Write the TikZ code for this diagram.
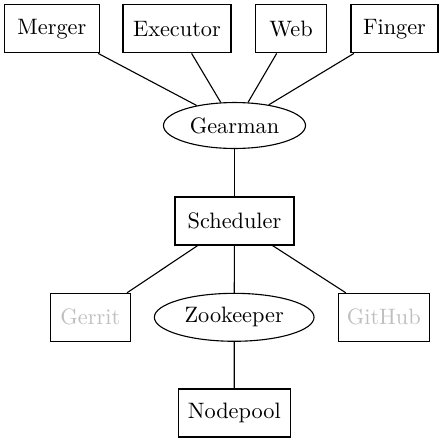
\documentclass[tikz,border=0pt]{standalone}
\usetikzlibrary{shapes.geometric}
\begin{document}
\begin{tikzpicture}[x=0.4484pt,y=-0.4484pt,
  every node/.style={font=\fontsize{10}{12}\selectfont},
  boxnode/.style={draw,line width=0.5pt,rectangle,inner sep=0pt,minimum height=21.5pt},
  ellnode/.style={draw,line width=0.5pt,ellipse,inner sep=0pt},
  faded/.style={text=black!25},
  link/.style={line width=0.5pt}]
\useasboundingbox (0,0) rectangle (443,443);
\node[boxnode,minimum width=42.3pt] (merger) at (51.9,28.9) {Merger};
\node[boxnode,minimum width=48.4pt] (executor) at (177,28.9) {Executor};
\node[boxnode,minimum width=32pt] (web) at (291,28.9) {Web};
\node[boxnode,minimum width=39pt] (finger) at (394.5,28.9) {Finger};
\node[ellnode,minimum width=63.7pt,minimum height=20.6pt] (gearman) at (234.5,125.5) {Gearman};
\node[boxnode,minimum width=53.4pt] (scheduler) at (234.5,221) {Scheduler};
\node[boxnode,minimum width=35.9pt,faded] (gerrit) at (90.3,317.3) {Gerrit};
\node[ellnode,minimum width=71.6pt,minimum height=21.5pt] (zookeeper) at (234.2,317.3) {Zookeeper};
\node[boxnode,minimum width=40.8pt,faded] (github) at (383.8,317.3) {GitHub};
\node[boxnode,minimum width=50.2pt] (nodepool) at (234.3,413) {Nodepool};
\draw[link] (merger) -- (gearman);
\draw[link] (executor) -- (gearman);
\draw[link] (web) -- (gearman);
\draw[link] (finger) -- (gearman);
\draw[link] (gearman) -- (scheduler);
\draw[link] (scheduler) -- (gerrit);
\draw[link] (scheduler) -- (zookeeper);
\draw[link] (scheduler) -- (github);
\draw[link] (zookeeper) -- (nodepool);
\end{tikzpicture}
\end{document}
